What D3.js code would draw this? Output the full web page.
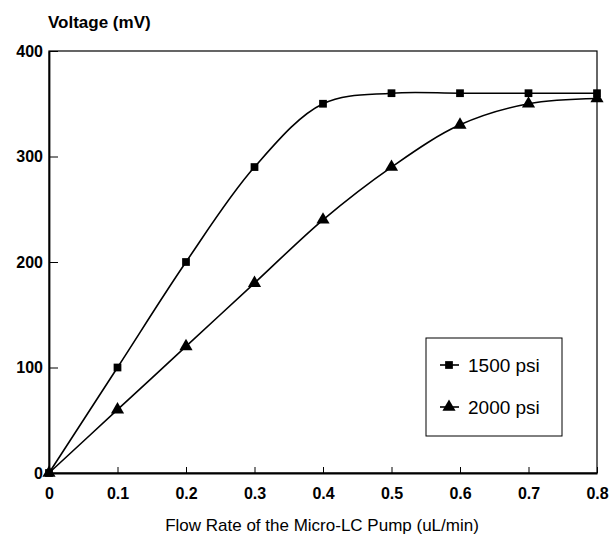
<!DOCTYPE html>
<html>
<head>
<meta charset="utf-8">
<script src="https://cdn.jsdelivr.net/npm/d3@7"></script>
<style>
  body { margin: 0; background: #fff; }
  svg { display: block; font-family: "Liberation Sans", Arial, sans-serif; }
</style>
</head>
<body>
<svg id="chart" width="613" height="539"></svg>
<script>
const flowRates = [0, 0.1, 0.2, 0.3, 0.4, 0.5, 0.6, 0.7, 0.8];
const voltage1500 = [0, 100, 200, 290, 350, 360, 360, 360, 360];
const voltage2000 = [0, 60, 120, 180, 240, 290, 330, 350, 355];
const xTicks = [0, 0.1, 0.2, 0.3, 0.4, 0.5, 0.6, 0.7, 0.8];
const yTicks = [0, 100, 200, 300, 400];
const seriesNames = ["1500 psi", "2000 psi"];

const svg = d3.select("#chart");
const margin = { left: 49, right: 16, top: 51, bottom: 66 };
const width = 613;
const height = 539;

const x = d3.scaleLinear().domain([0, 0.8]).range([margin.left, width - margin.right]);
const y = d3.scaleLinear().domain([0, 400]).range([height - margin.bottom, margin.top]);

// frame
svg.append("rect")
  .attr("x", x(0))
  .attr("y", y(400))
  .attr("width", x(0.8) - x(0))
  .attr("height", y(0) - y(400))
  .attr("fill", "none")
  .attr("stroke", "#000")
  .attr("stroke-width", 1.2);

const xAxis = svg.append("g")
  .attr("transform", `translate(0,${y(0)})`)
  .call(d3.axisBottom(x).tickValues(xTicks).tickSizeInner(-6).tickSizeOuter(0).tickPadding(15)
    .tickFormat((d) => (d === 0 ? "0" : d3.format(".1f")(d))));
xAxis.select(".domain").attr("stroke-width", 1.8);
xAxis.selectAll("text").attr("font-size", 16).attr("font-weight", "bold").attr("fill", "#000");

const yAxis = svg.append("g")
  .attr("transform", `translate(${x(0)},0)`)
  .call(d3.axisLeft(y).tickValues(yTicks).tickSizeInner(-9).tickSizeOuter(0).tickPadding(6));
yAxis.select(".domain").attr("stroke-width", 1.8);
yAxis.selectAll("text").attr("font-size", 16).attr("font-weight", "bold").attr("fill", "#000");

const line = d3.line()
  .x((d) => x(d[0]))
  .y((d) => y(d[1]))
  .curve(d3.curveCatmullRom.alpha(0.5));

const series = [
  { name: seriesNames[0], values: flowRates.map((f, i) => [f, voltage1500[i]]), symbol: d3.symbolSquare, size: 60 },
  { name: seriesNames[1], values: flowRates.map((f, i) => [f, voltage2000[i]]), symbol: d3.symbolTriangle, size: 75 }
];

for (const s of series) {
  svg.append("path")
    .attr("d", line(s.values))
    .attr("fill", "none")
    .attr("stroke", "#000")
    .attr("stroke-width", 1.6);

  svg.append("g")
    .selectAll("path")
    .data(s.values)
    .join("path")
    .attr("transform", (d) => `translate(${x(d[0])},${y(d[1])})`)
    .attr("d", d3.symbol().type(s.symbol).size(s.size))
    .attr("fill", "#000");
}

// legend
const legend = svg.append("g").attr("transform", "translate(426,338)");
legend.append("rect")
  .attr("width", 136)
  .attr("height", 98)
  .attr("fill", "#fff")
  .attr("stroke", "#000")
  .attr("stroke-width", 1);

series.forEach((s, i) => {
  const row = legend.append("g").attr("transform", `translate(0,${27 + i * 42})`);
  row.append("line").attr("x1", 14).attr("x2", 33).attr("stroke", "#000").attr("stroke-width", 1.6);
  row.append("path")
    .attr("transform", "translate(23,0)")
    .attr("d", d3.symbol().type(s.symbol).size(s.size))
    .attr("fill", "#000");
  row.append("text")
    .attr("x", 42)
    .attr("y", 7)
    .attr("font-size", 19)
    .text(s.name);
});

svg.append("text")
  .attr("x", 48)
  .attr("y", 28)
  .attr("font-size", 17)
  .attr("font-weight", "bold")
  .text("Voltage (mV)");

svg.append("text")
  .attr("x", 322)
  .attr("y", 531)
  .attr("text-anchor", "middle")
  .attr("font-size", 17)
  .text("Flow Rate of the Micro-LC Pump (uL/min)");
</script>
</body>
</html>
